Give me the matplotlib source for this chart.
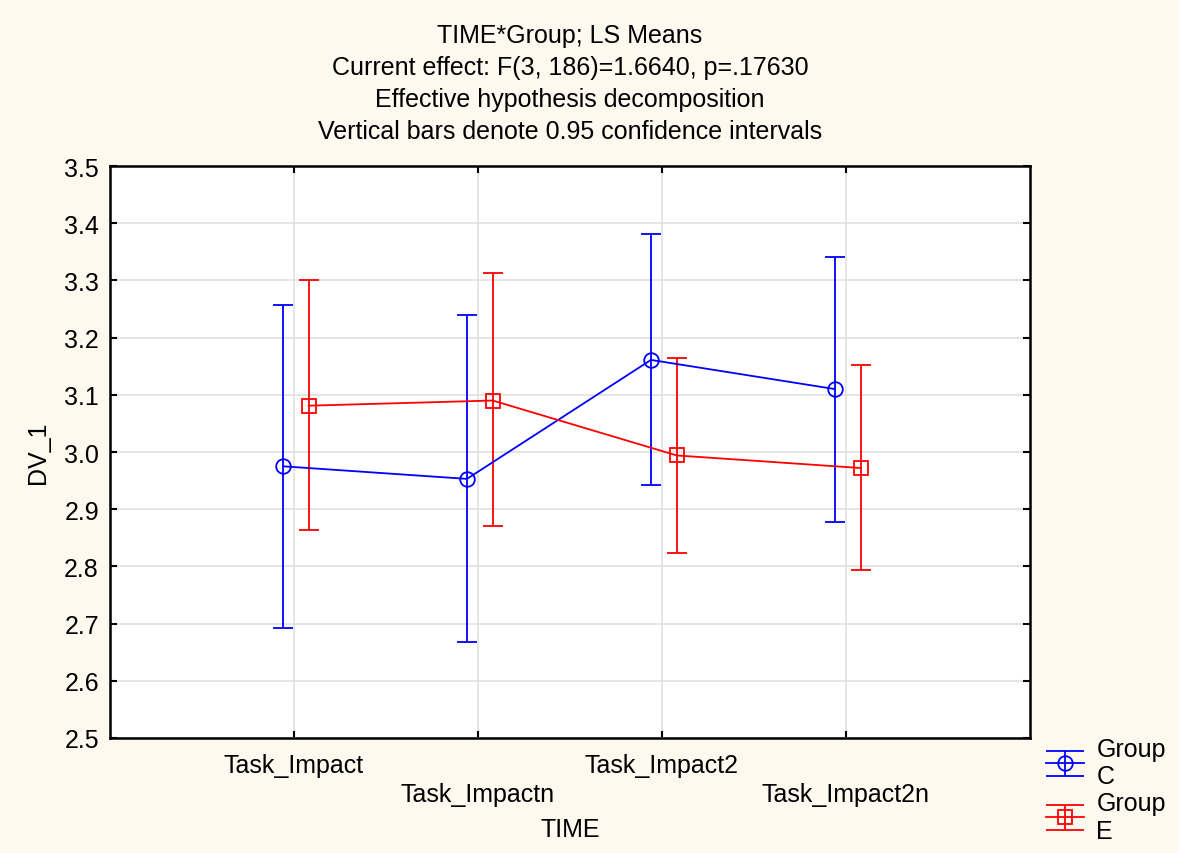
import numpy as np
import matplotlib.pyplot as plt
from matplotlib.container import ErrorbarContainer
from matplotlib.legend_handler import HandlerErrorbar
from matplotlib.lines import Line2D

plt.rcParams['font.family'] = ['Liberation Sans', 'DejaVu Sans']

time_labels = ["Task_Impact", "Task_Impactn", "Task_Impact2", "Task_Impact2n"]

# Group C
c_mean = [2.975, 2.953, 3.161, 3.110]
c_low = [2.693, 2.668, 2.942, 2.878]
c_high = [3.257, 3.240, 3.382, 3.341]

# Group E
e_mean = [3.081, 3.090, 2.994, 2.972]
e_low = [2.864, 2.870, 2.824, 2.793]
e_high = [3.300, 3.313, 3.165, 3.152]

bg = '#fdf9ef'
fig = plt.figure(figsize=(11.79, 8.54), dpi=100, facecolor=bg)
ax = fig.add_axes([0.0933, 0.1347, 0.7803, 0.6697])

x = np.arange(len(time_labels))

def draw(offset, mean, low, high, color, marker, label):
    mean = np.array(mean)
    yerr = [mean - np.array(low), np.array(high) - mean]
    ax.errorbar(x + offset, mean, yerr=yerr, color=color, marker=marker,
                markersize=10.5, markerfacecolor='none', markeredgewidth=1.3,
                linewidth=1.3, elinewidth=1.3, capsize=7, capthick=1.3,
                label=label, zorder=3)

draw(-0.06, c_mean, c_low, c_high, '#0000ff', 'o', 'Group\nC')
draw(0.08, e_mean, e_low, e_high, '#ff0000', 's', 'Group\nE')


class WideCaps(HandlerErrorbar):
    # caps in the legend span the whole handle
    def create_artists(self, *args, **kw):
        arts = super().create_artists(*args, **kw)
        for a in arts:
            if isinstance(a, Line2D) and a.get_marker() == '_':
                a.set_markersize(27)
        return arts


ax.set_xlim(-1, 4)
ax.set_ylim(2.5, 3.5)
ax.set_yticks(np.arange(2.5, 3.51, 0.1))
ax.set_yticklabels([f"{v:.1f}" for v in np.arange(2.5, 3.51, 0.1)])
ax.set_xticks(x)
ax.set_xticklabels([lbl if i % 2 == 0 else "\n" + lbl for i, lbl in enumerate(time_labels)],
                   linespacing=1.25)
ax.grid(True, color='#e0e0e0', linewidth=1.2)
ax.set_axisbelow(True)
ax.tick_params(direction='in', length=5, width=1.5, top=True, right=True,
               labelsize=18, pad=8)
ax.tick_params(axis='x', pad=11)
for s in ax.spines.values():
    s.set_linewidth(1.8)

ax.set_xlabel("TIME", fontsize=18, labelpad=8)
ax.set_ylabel("DV_1", fontsize=18, labelpad=10)
ax.set_title("TIME*Group; LS Means\nCurrent effect: F(3, 186)=1.6640, p=.17630\n"
             "Effective hypothesis decomposition\nVertical bars denote 0.95 confidence intervals",
             fontsize=18, linespacing=1.42, pad=20)

leg = ax.legend(loc='upper left', bbox_to_anchor=(1.007, 0.02), frameon=False,
                fontsize=18, handlelength=1.5, handletextpad=0.5, labelspacing=0.1,
                borderaxespad=0, handler_map={ErrorbarContainer: WideCaps(yerr_size=0.5)})
for t in leg.get_texts():
    t.set_linespacing(1.2)

fig.savefig("out.png", dpi=100, facecolor=bg)
